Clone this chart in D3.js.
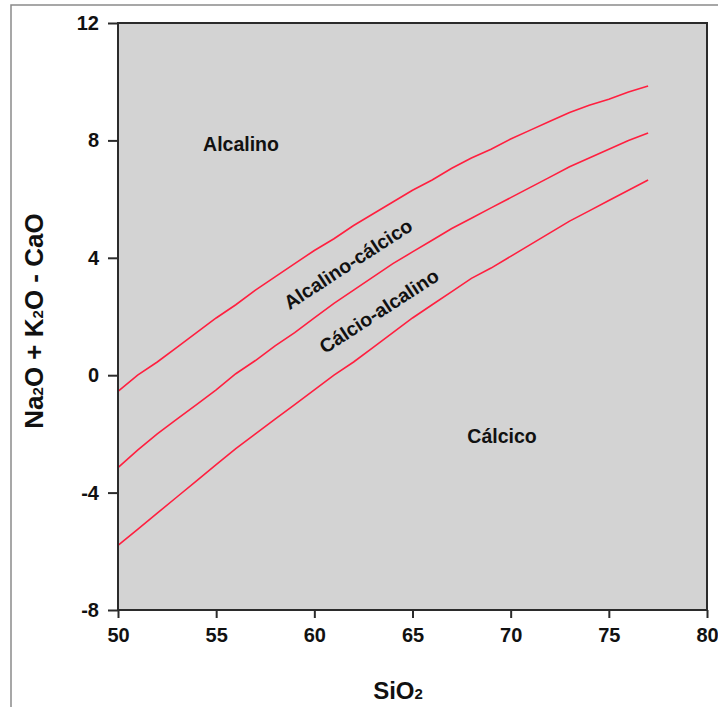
<!DOCTYPE html>
<html><head><meta charset="utf-8">
<script src="https://cdn.jsdelivr.net/npm/d3@7"></script>
<style>body{margin:0;background:#fff}svg{display:block;font-family:"Liberation Sans",Arial,sans-serif}</style>
</head><body><svg id="c" width="718" height="707"></svg>
<script>
const silica = [50,51,52,53,54,55,56,57,58,59,60,61,62,63,64,65,66,67,68,69,70,71,72,73,74,75,76,77];
const alcalinoLine = [-0.55,0.0,0.45,0.95,1.45,1.95,2.4,2.9,3.35,3.8,4.25,4.65,5.1,5.5,5.9,6.3,6.65,7.05,7.4,7.7,8.05,8.35,8.65,8.95,9.2,9.4,9.65,9.85];
const alcalinoCalcicoLine = [-3.15,-2.55,-2.0,-1.5,-1.0,-0.5,0.05,0.5,1.0,1.45,1.95,2.45,2.9,3.35,3.8,4.2,4.6,5.0,5.35,5.7,6.05,6.4,6.75,7.1,7.4,7.7,8.0,8.25];
const calcioAlcalinoLine = [-5.8,-5.25,-4.7,-4.15,-3.6,-3.05,-2.5,-2.0,-1.5,-1.0,-0.5,0.0,0.45,0.95,1.45,1.95,2.4,2.85,3.3,3.65,4.05,4.45,4.85,5.25,5.6,5.95,6.3,6.65];
const xTicks = [50,55,60,65,70,75,80];
const yTicks = [-8,-4,0,4,8,12];

const svg = d3.select("#c");
const L=118, T=23, R=707, B=610;
const x = d3.scaleLinear().domain([50,80]).range([L,R]);
const y = d3.scaleLinear().domain([-8,12]).range([B,T]);

// outer frame
svg.append("path").attr("d","M11,720 L11,5 L720,5").attr("fill","none").attr("stroke","#8a8a8a").attr("stroke-width",1.5);

svg.append("rect").attr("x",L).attr("y",T).attr("width",R-L).attr("height",B-T).attr("fill","#d3d3d3");

const line = d3.line().x((d,i)=>x(silica[i])).y(d=>y(d));
[alcalinoLine, alcalinoCalcicoLine, calcioAlcalinoLine].forEach(s=>{
  svg.append("path").attr("d",line(s)).attr("fill","none").attr("stroke","#ff1f3f").attr("stroke-width",1.6);
});

svg.append("rect").attr("x",L).attr("y",T).attr("width",R-L).attr("height",B-T).attr("fill","none").attr("stroke","#2b2b2b").attr("stroke-width",2);

const fmt = d => String(d);
const xa = svg.append("g").attr("transform",`translate(0,${B})`).call(d3.axisBottom(x).tickValues(xTicks).tickFormat(fmt).tickSize(8).tickPadding(10));
const ya = svg.append("g").attr("transform",`translate(${L},0)`).call(d3.axisLeft(y).tickValues(yTicks).tickFormat(fmt).tickSize(10).tickPadding(9));
[xa,ya].forEach(a=>{
  a.select(".domain").remove();
  a.selectAll("line").attr("stroke","#2b2b2b").attr("stroke-width",2);
  a.selectAll("text").attr("font-size",20).attr("font-weight","bold").attr("fill","#111").attr("font-family","Liberation Sans, Arial, sans-serif");
});

function label(t, px, py, rot, size){
  svg.append("text").attr("transform",`translate(${px},${py}) rotate(${rot})`).attr("text-anchor","middle")
    .attr("dy","0.35em").attr("font-size",size).attr("font-weight","bold").attr("fill","#111").text(t);
}
label("Alcalino", 241, 144, 0, 19.5);
label("Cálcico", 502, 436, 0, 19.5);
label("Alcalino-cálcico", 348, 264, -33, 19.5);
label("Cálcio-alcalino", 379, 311, -33, 19.5);

// axis titles with subscripts
const xt = svg.append("text").attr("x",398).attr("y",699).attr("text-anchor","middle").attr("font-size",24).attr("font-weight","bold").attr("fill","#111");
xt.append("tspan").text("SiO");
xt.append("tspan").attr("font-size",15).text("2");

const yt = svg.append("text").attr("transform","translate(43,321) rotate(-90)").attr("text-anchor","middle").attr("font-size",26).attr("font-weight","bold").attr("fill","#111");
yt.append("tspan").text("Na");
yt.append("tspan").attr("font-size",15).text("2");
yt.append("tspan").text("O + K");
yt.append("tspan").attr("font-size",15).text("2");
yt.append("tspan").text("O - CaO");
</script></body></html>
